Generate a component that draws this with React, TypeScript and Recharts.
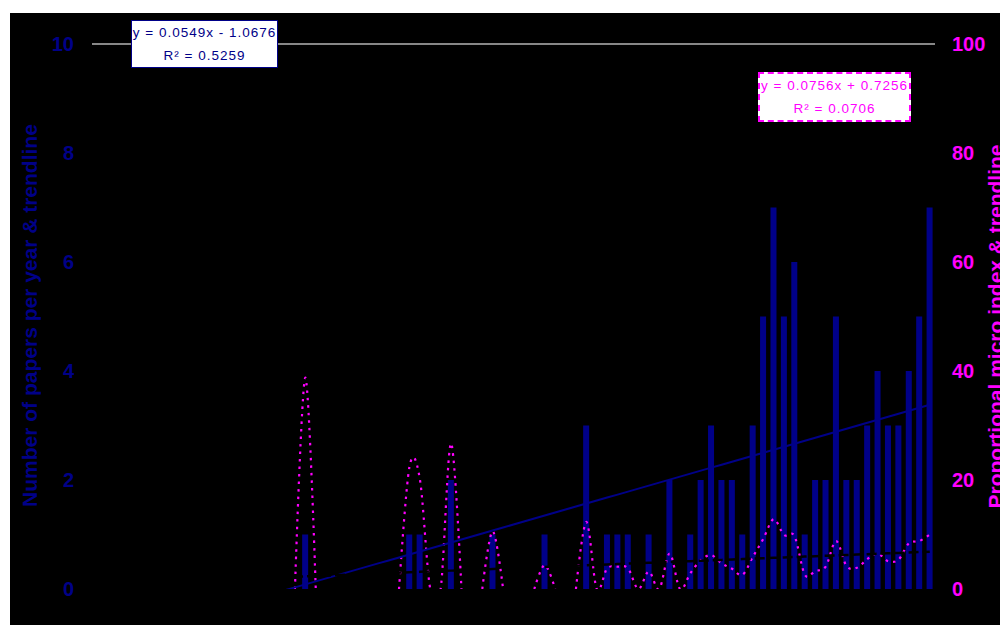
import { ComposedChart, Bar, Line, XAxis, YAxis, ReferenceLine } from 'recharts';

const NAVY = '#000088';
const MAGENTA = '#ff00ff';
const FONT = '"Liberation Sans", Arial, sans-serif';

// one category per year of the record, numbered the way the trendline equations count them
const periods = Array.from({ length: 81 }, (_, i) => i + 1);

const papers = [
  0, 0, 0, 0, 0, 0, 0, 0, 0, 0,
  0, 0, 0, 0, 0, 0, 0, 0, 0, 0,
  1, 0, 0, 0, 0, 0, 0, 0, 0, 0,
  1, 1, 0, 0, 2, 0, 0, 0, 1, 0,
  0, 0, 0, 1, 0, 0, 0, 3, 0, 1,
  1, 1, 0, 1, 0, 2, 0, 1, 2, 3,
  2, 2, 1, 3, 5, 7, 5, 6, 1, 2,
  2, 5, 2, 2, 3, 4, 3, 3, 4, 5,
  7,
];

const microIndex = [
  null, null, null, null, null, null, null, null, null, null,
  null, null, null, null, null, null, null, null, null, 0,
  38.8, 0, null, null, null, null, null, null, null, 0,
  22.4, 20.2, 0, 0, 26.7, 0, null, 0, 10.6, 0,
  null, null, 0, 4.4, 0, null, 0, 12.3, 0, 3.8,
  4.1, 3.8, 0, 3.2, 0, 6.5, 0, 2.9, 5.3, 6.2,
  4.7, 3.7, 2.6, 5.9, 9.2, 12.8, 9.9, 9.7, 2.6, 3.3,
  4.1, 8.8, 4.2, 3.9, 5.5, 6.5, 5.1, 5.4, 8.4, 8.8,
  10,
];

const paperTrend = { slope: 0.0549, intercept: -1.0676, r2: '0.5259' };
const microTrend = { slope: 0.0756, intercept: 0.7256, r2: '0.0706' };

const leftTicks = [0, 2, 4, 6, 8, 10];
const rightTicks = [0, 20, 40, 60, 80, 100];

const rows = periods.map((p, i) => ({
  period: p,
  papers: papers[i],
  micro: microIndex[i],
  paperFit: paperTrend.slope * p + paperTrend.intercept,
  microFit: microTrend.slope * p + microTrend.intercept,
}));

// Excel-style smoothed line (cardinal spline, tension 0)
function excelSmooth(context: any) {
  const k = 1 / 6;
  let x0 = NaN, x1 = NaN, x2 = NaN, y0 = NaN, y1 = NaN, y2 = NaN;
  let pt = 0;
  const seg = (x: number, y: number) => {
    context.bezierCurveTo(
      x1 + k * (x2 - x0), y1 + k * (y2 - y0),
      x2 + k * (x1 - x), y2 + k * (y1 - y),
      x2, y2,
    );
  };
  return {
    areaStart() {},
    areaEnd() {},
    lineStart() {
      x0 = x1 = x2 = y0 = y1 = y2 = NaN;
      pt = 0;
    },
    lineEnd() {
      if (pt === 2) context.lineTo(x2, y2);
      else if (pt === 3) seg(x1, y1);
    },
    point(x: number, y: number) {
      x = +x;
      y = +y;
      if (pt === 0) {
        pt = 1;
        context.moveTo(x, y);
      } else if (pt === 1) {
        pt = 2;
        x1 = x;
        y1 = y;
      } else {
        pt = 3;
        seg(x, y);
      }
      x0 = x1; x1 = x2; x2 = x;
      y0 = y1; y1 = y2; y2 = y;
    },
  };
}

const axisTitle = (text: string, color: string, x: number, shift: number) => (props: any) => {
  const vb = props.viewBox || { y: 31, height: 545 };
  const cy = vb.y + vb.height / 2 + shift;
  return (
    <text
      x={x}
      y={cy}
      transform={`rotate(-90, ${x}, ${cy})`}
      textAnchor="middle"
      fill={color}
      fontFamily={FONT}
      fontSize={21}
      fontWeight={700}
    >
      {text}
    </text>
  );
};

const boxText = { fontFamily: FONT, fontSize: 13.5, letterSpacing: 1, lineHeight: '23px', textAlign: 'center' as const };

export default function App() {
  return (
    <div style={{ position: 'absolute', left: 10, top: 13, width: 990, height: 612, background: '#000' }}>
      <ComposedChart
        width={990}
        height={612}
        data={rows}
        margin={{ top: 31, right: 0, bottom: 36, left: 0 }}
      >
        <XAxis dataKey="period" hide />
        <YAxis
          yAxisId="papers"
          orientation="left"
          width={82}
          domain={[0, 10]}
          ticks={leftTicks}
          allowDataOverflow
          axisLine={false}
          tickLine={false}
          tickMargin={12}
          tick={{ fill: NAVY, fontSize: 20, fontWeight: 700, fontFamily: FONT }}
          label={axisTitle('Number of papers per year & trendline', NAVY, 27, -1)}
        />
        <YAxis
          yAxisId="micro"
          orientation="right"
          width={65}
          domain={[0, 100]}
          ticks={rightTicks}
          allowDataOverflow
          axisLine={false}
          tickLine={false}
          tickMargin={11}
          tick={{ fill: MAGENTA, fontSize: 20, fontWeight: 700, fontFamily: FONT, textAnchor: 'start' }}
          label={axisTitle('Proportional micro index & trendline', MAGENTA, 993, 10)}
        />
        <ReferenceLine yAxisId="papers" y={10} stroke="#b4b4b4" strokeWidth={1.5} />
        <Bar yAxisId="papers" dataKey="papers" fill={NAVY} barSize={6} isAnimationActive={false} />
        <Line
          yAxisId="micro"
          dataKey="micro"
          type={excelSmooth as any}
          stroke={MAGENTA}
          strokeWidth={2.2}
          strokeDasharray="2.5 5"
          dot={false}
          activeDot={false}
          isAnimationActive={false}
        />
        <Line
          yAxisId="papers"
          dataKey="paperFit"
          type="linear"
          stroke={NAVY}
          strokeWidth={2}
          dot={false}
          activeDot={false}
          isAnimationActive={false}
        />
        <Line
          yAxisId="micro"
          dataKey="microFit"
          type="linear"
          stroke="#000"
          strokeWidth={2.5}
          strokeDasharray="10 4"
          dot={false}
          activeDot={false}
          isAnimationActive={false}
        />
      </ComposedChart>

      <div
        style={{
          position: 'absolute', left: 121, top: 7, width: 145, height: 46,
          background: '#fff', border: `1.5px solid ${NAVY}`, color: NAVY, ...boxText,
        }}
      >
        <div>y = {paperTrend.slope}x - {Math.abs(paperTrend.intercept)}</div>
        <div>R² = {paperTrend.r2}</div>
      </div>

      <div
        style={{
          position: 'absolute', left: 748, top: 59, width: 149, height: 46,
          background: '#fff', border: `2px dashed ${MAGENTA}`, color: MAGENTA, ...boxText,
        }}
      >
        <div>y = {microTrend.slope}x + {microTrend.intercept}</div>
        <div>R² = {microTrend.r2}</div>
      </div>
    </div>
  );
}
